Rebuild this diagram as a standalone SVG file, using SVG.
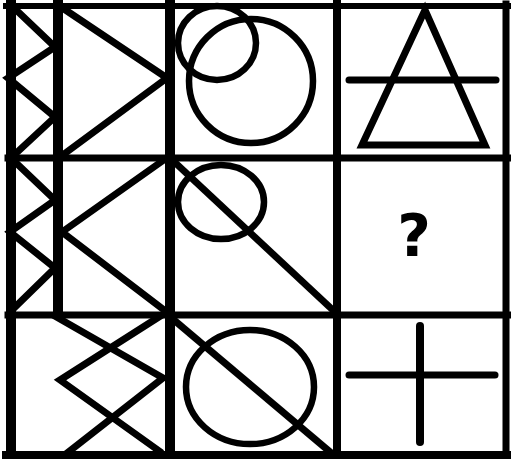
<svg xmlns="http://www.w3.org/2000/svg" width="511" height="459" viewBox="0 0 511 459">
<style>
.g{stroke:#000;fill:none;stroke-linecap:square}
.s{stroke:#000;fill:none;stroke-width:7;stroke-linejoin:miter}
.c{stroke:#000;fill:none;stroke-width:6.5}
.r{stroke:#000;fill:none;stroke-width:8;stroke-linecap:round}
</style>
<rect width="511" height="459" fill="#fff"/>
<g id="r1c1">
<polyline class="s" points="12,6 55,47 8,78 55,117 12,157"/>
<polyline class="s" points="58,5 167,78 60,157"/>
</g>
<g id="r2c1">
<polyline class="s" points="12,159 55,200 10,232 55,268 10,312"/>
<polyline class="s" points="168,157 62,232 168,313"/>
</g>
<g id="r3c1">
<polyline class="s" points="53,315 163,378 62,457"/>
<polyline class="s" points="162,315 60,380 162,453"/>
</g>
<g id="r1c2">
<ellipse class="c" cx="217" cy="43" rx="39" ry="37"/>
<circle class="c" cx="251" cy="81" r="62"/>
</g>
<g id="r2c2">
<ellipse class="c" cx="221" cy="202" rx="43" ry="37"/>
<line class="s" x1="168" y1="156" x2="336" y2="313"/>
</g>
<g id="r3c2">
<ellipse class="c" cx="250" cy="387" rx="64" ry="57"/>
<line class="s" x1="168" y1="315" x2="336" y2="457"/>
</g>
<g id="r1c3">
<polygon class="s" points="425,10 362,145 485,145"/>
<line class="r" x1="349" y1="80" x2="496" y2="80" style="stroke-width:7"/>
</g>
<g id="r2c3">
<text x="414" y="256" font-family="DejaVu Sans, sans-serif" font-weight="bold" font-size="58" text-anchor="middle">?</text>
</g>
<g id="r3c3">
<line class="r" x1="420" y1="326" x2="420" y2="442"/>
<line class="r" x1="349" y1="375" x2="495" y2="375" style="stroke-width:7"/>
</g>
<g id="grid">
<line class="g" x1="6" y1="6" x2="508" y2="6" stroke-width="6"/>
<line class="g" x1="6" y1="455" x2="508" y2="455" stroke-width="8"/>
<line class="g" x1="11" y1="4" x2="11" y2="458" stroke-width="10"/>
<line class="g" x1="506" y1="4" x2="506" y2="458" stroke-width="7"/>
<line class="g" x1="170" y1="4" x2="170" y2="458" stroke-width="10"/>
<line class="g" x1="337" y1="4" x2="337" y2="458" stroke-width="8"/>
<line class="g" x1="58" y1="4" x2="58" y2="312" stroke-width="10"/>
<line class="g" x1="8" y1="158" x2="508" y2="158" stroke-width="7"/>
<line class="g" x1="8" y1="315" x2="508" y2="315" stroke-width="7"/>
</g>
</svg>
